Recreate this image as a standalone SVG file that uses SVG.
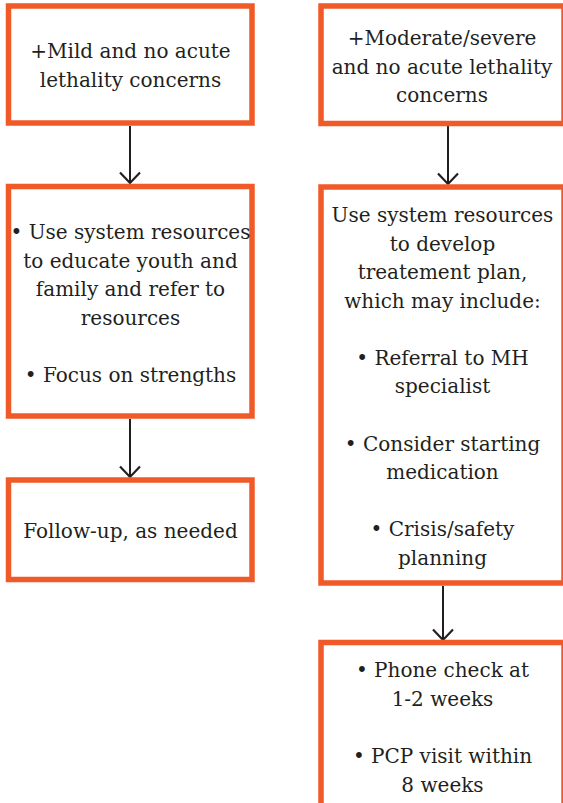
<svg xmlns="http://www.w3.org/2000/svg" width="563" height="803" viewBox="0 0 563 803">
<defs>
<style>
.box{fill:#ffffff;stroke:#f05a28;stroke-width:5.5}
.t{font-family:"DejaVu Serif","Liberation Serif",serif;font-size:20px;fill:#231f20;text-anchor:middle}
.c{stroke:#231f20;stroke-width:2;fill:none}
</style>
<marker id="ah" viewBox="0 0 14 24" refX="12.5" refY="12" markerWidth="14" markerHeight="24" markerUnits="userSpaceOnUse" orient="auto">
<path d="M2,2 L12.5,12 L2,22" fill="none" stroke="#231f20" stroke-width="2.2"/>
</marker>
</defs>
<rect width="563" height="803" fill="#ffffff"/>
<g id="connectors">
<line class="c" x1="130" y1="126" x2="130" y2="183" marker-end="url(#ah)"/>
<line class="c" x1="130" y1="419" x2="130" y2="477" marker-end="url(#ah)"/>
<line class="c" x1="448" y1="126" x2="448" y2="184" marker-end="url(#ah)"/>
<line class="c" x1="443" y1="586" x2="443" y2="640" marker-end="url(#ah)"/>
</g>
<g id="mild">
<rect class="box" x="8.5" y="6" width="243.5" height="117"/>
<text class="t" x="130.5" y="58">+Mild and no acute</text>
<text class="t" x="130.5" y="87">lethality concerns</text>
</g>
<g id="mild-actions">
<rect class="box" x="8.5" y="186.5" width="243.5" height="229.5"/>
<text class="t" x="130.5" y="239">• Use system resources</text>
<text class="t" x="130.5" y="267.5">to educate youth and</text>
<text class="t" x="130.5" y="296">family and refer to</text>
<text class="t" x="130.5" y="324.5">resources</text>
<text class="t" x="130.5" y="382">• Focus on strengths</text>
</g>
<g id="mild-followup">
<rect class="box" x="8.5" y="480" width="243.5" height="99.5"/>
<text class="t" x="130.5" y="538">Follow-up, as needed</text>
</g>
<g id="moderate">
<rect class="box" x="321" y="6" width="243" height="117.5"/>
<text class="t" x="442" y="45">+Moderate/severe</text>
<text class="t" x="442" y="74">and no acute lethality</text>
<text class="t" x="442" y="102">concerns</text>
</g>
<g id="moderate-plan">
<rect class="box" x="321" y="187" width="243" height="396"/>
<text class="t" x="442.5" y="222">Use system resources</text>
<text class="t" x="442.5" y="250.5">to develop</text>
<text class="t" x="442.5" y="279">treatement plan,</text>
<text class="t" x="442.5" y="307.5">which may include:</text>
<text class="t" x="442.5" y="364.5">• Referral to MH</text>
<text class="t" x="442.5" y="393">specialist</text>
<text class="t" x="442.5" y="450.5">• Consider starting</text>
<text class="t" x="442.5" y="479">medication</text>
<text class="t" x="442.5" y="536">• Crisis/safety</text>
<text class="t" x="442.5" y="564.5">planning</text>
</g>
<g id="moderate-followup">
<rect class="box" x="321" y="642.5" width="243" height="200"/>
<text class="t" x="442.5" y="677">• Phone check at</text>
<text class="t" x="442.5" y="706">1-2 weeks</text>
<text class="t" x="442.5" y="763">• PCP visit within</text>
<text class="t" x="442.5" y="792">8 weeks</text>
</g>
</svg>
